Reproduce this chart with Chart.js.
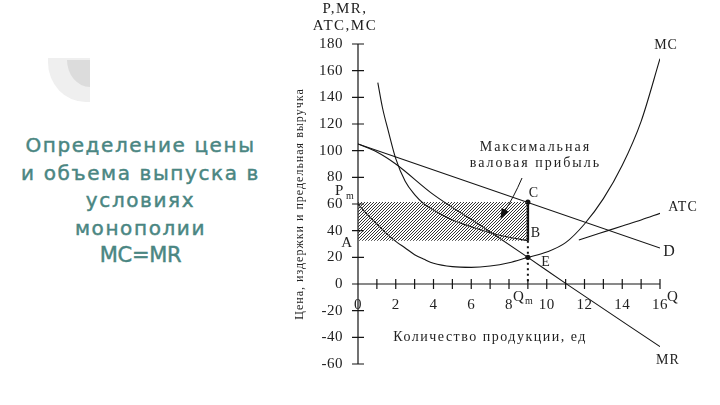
<!DOCTYPE html>
<html lang="ru">
<head>
  <meta charset="UTF-8">
  <meta name="viewport" content="width=device-width, initial-scale=1.0">
  <title>Определение цены и объема выпуска в условиях монополии</title>
  <style>
    html, body { margin: 0; padding: 0; background: #fff; }
    body { width: 720px; height: 405px; position: relative; overflow: hidden; }
    .deco { position: absolute; left: 48px; top: 58px; width: 42px; height: 44px;
            background: #efefef; border-bottom-left-radius: 90%; }
    .deco span { position: absolute; right: 0; top: 2px; width: 23px; height: 27px;
                 background: #dcdcdc; border-bottom-left-radius: 100%; }
    .title { position: absolute; left: 0; top: 132px; width: 281px; text-align: center;
             color: #4a8682; font-family: "DejaVu Sans", sans-serif; font-size: 20px;
             letter-spacing: 1.6px; -webkit-text-stroke: 0.45px #4a8682; }
    .title div { height: 27.5px; line-height: 27.5px; white-space: nowrap; }
    .title .big { font-size: 21px; letter-spacing: -0.3px; }
    .chartContainer { position: absolute; left: 0; top: 0; width: 720px; height: 405px; }
  </style>
</head>
<body>
  <div class="deco"><span></span></div>
  <div class="title">
    <div>Определение цены</div>
    <div>и объема выпуска в</div>
    <div>условиях</div>
    <div>монополии</div>
    <div class="big">MC=MR</div>
  </div>
  <div class="chartContainer">
    <canvas id="myChart"></canvas>
  </div>

  <script src="https://cdn.jsdelivr.net/npm/chart.js"></script>
  <script>
    // values
    const qMC = [0, 0.5, 1, 1.5, 2, 2.5, 3, 3.5, 4, 5, 6, 7, 8, 9, 10, 11, 12, 13, 14, 15, 16]
    const mc  = [60, 52, 45, 38, 32, 27, 22, 18.5, 15.5, 13, 12.5, 13.5, 16, 20, 24, 31, 45, 64, 89, 122, 169]

    const qATC = [1.05, 1.3, 1.6, 2, 2.5, 3, 3.5, 4, 5, 6, 7, 8, 9, 10.5, 11.7, 12.8, 14, 15, 16]
    const atc  = [151, 132, 115, 94, 77, 67, 60, 55.5, 48, 43, 38.5, 35, 32.5, null, 33, 38, 43.5, 48, 53]

    const qD = [0, 16]
    const dem = [105, 27]

    const qMR = [0, 1, 2, 4, 6.7, 9, 11, 16]
    const mr  = [105, 99, 90, 67, 42, 20, 0.5, -47]

    const qM = 9        // Qm
    const pM = 61.5     // Pm (point C)
    const atcM = 32.5   // ATC at Qm (point B)
    const mcM = 20      // MC = MR at Qm (point E)

    const xTicks = [0, 1, 2, 3, 4, 5, 6, 7, 8, 9, 10, 11, 12, 13, 14, 15, 16]
    const xTickLabels = ['0', '', '2', '', '4', '', '6', '', '8', '', '10', '', '12', '', '14', '', '16']
    const yTicks = [-60, -40, -20, 0, 20, 40, 60, 80, 100, 120, 140, 160, 180]

    // text placed on the chart (data units)
    const curveLabels = [
      { text: 'MC',  q: 16.32, v: 179, size: 14 },
      { text: 'ATC', q: 17.22, v: 57.5, size: 14 },
      { text: 'D',   q: 16.5,  v: 24, size: 16 },
      { text: 'MR',  q: 16.42, v: -57, size: 14 },
      { text: 'C',   q: 9.32,  v: 68.3, size: 14 },
      { text: 'B',   q: 9.43,  v: 38.3, size: 14 },
      { text: 'E',   q: 9.96,  v: 16.5, size: 14 },
      { text: 'Q',   q: 16.69, v: -9.75, size: 15 },
      { text: 'A',   q: -0.58, v: 30.75, size: 15 }
    ]
    const noteLines = ['Максимальная', 'валовая прибыль']
    const noteAt = { q: 9.4, v: 102.75 }
    const arrowFrom = { q: 8.69, v: 79.5 }
    const arrowTo = { q: 7.55, v: 49 }

    const pts = (xs, ys) => xs.map((x, i) => ({ x: x, y: ys[i] }))

    // hatch for the profit rectangle
    const tile = document.createElement('canvas')
    tile.width = 3
    tile.height = 3
    const tctx = tile.getContext('2d')
    tctx.fillStyle = '#333'
    tctx.fillRect(0, 2, 1, 1)
    tctx.fillRect(1, 1, 1, 1)
    tctx.fillRect(2, 0, 1, 1)
    const hatch = tctx.createPattern(tile, 'repeat')

    const serif = (size) => size + 'px "Liberation Serif", "DejaVu Serif", serif'

    function text(ctx, s, x, y, size, align, spacing) {
      ctx.font = serif(size)
      ctx.letterSpacing = (spacing || 0) + 'px'
      ctx.textAlign = align || 'center'
      ctx.fillText(s, x, y)
    }

    const drawAxes = {
      id: 'drawAxes',
      beforeDatasetsDraw(chart) {
        const ctx = chart.ctx
        const x = chart.scales.x
        const y = chart.scales.y
        const x0 = x.getPixelForValue(0)
        const y0 = y.getPixelForValue(0)
        ctx.save()
        ctx.strokeStyle = '#151515'
        ctx.lineWidth = 1.2
        ctx.beginPath()
        ctx.moveTo(x0, y.getPixelForValue(yTicks[yTicks.length - 1]))
        ctx.lineTo(x0, y.getPixelForValue(yTicks[0]))
        ctx.moveTo(x0, y0)
        ctx.lineTo(x.getPixelForValue(xTicks[xTicks.length - 1]), y0)
        yTicks.forEach(v => {
          const py = y.getPixelForValue(v)
          ctx.moveTo(x0 - 6, py)
          ctx.lineTo(x0 + 6, py)
        })
        xTicks.forEach(v => {
          const px = x.getPixelForValue(v)
          ctx.moveTo(px, y0 - 5)
          ctx.lineTo(px, y0 + 5)
        })
        ctx.stroke()
        ctx.restore()
      },
      afterDatasetsDraw(chart) {
        const ctx = chart.ctx
        const x = chart.scales.x
        const y = chart.scales.y
        const x0 = x.getPixelForValue(0)
        const y0 = y.getPixelForValue(0)
        const top = y.getPixelForValue(yTicks[yTicks.length - 1])
        ctx.save()
        ctx.fillStyle = '#222'
        ctx.textBaseline = 'middle'

        // y tick labels
        yTicks.forEach(v => text(ctx, String(v), x0 - 15, y.getPixelForValue(v), 15, 'right', 0.5))
        // x tick labels
        xTicks.forEach((v, i) => {
          if (xTickLabels[i]) text(ctx, xTickLabels[i], x.getPixelForValue(v), y0 + 21, 15, 'center', 0.5)
        })

        // axis titles
        text(ctx, 'P,MR,', x0 - 13, top - 35, 15, 'center', 1.5)
        text(ctx, 'ATC,MC', x0 - 13, top - 18, 15, 'center', 1.5)
        text(ctx, 'Количество продукции, ед', x.getPixelForValue(7), y.getPixelForValue(-40), 14, 'center', 1.5)
        ctx.save()
        ctx.translate(x0 - 58, (y.getPixelForValue(-20) + y.getPixelForValue(140)) / 2)
        ctx.rotate(-Math.PI / 2)
        text(ctx, 'Цена, издержки и предельная выручка', 0, 0, 12, 'center', 1)
        ctx.restore()

        // curve and point labels
        curveLabels.forEach(l => text(ctx, l.text, x.getPixelForValue(l.q), y.getPixelForValue(l.v), l.size, 'center', 1))

        // Pm and Qm with subscripts
        const pmY = y.getPixelForValue(69.8)
        text(ctx, 'P', x0 - 23, pmY, 15, 'left', 0)
        text(ctx, 'm', x0 - 12, pmY + 5, 10, 'left', 0)
        const qmX = x.getPixelForValue(8.21)
        const qmY = y.getPixelForValue(-9.75)
        text(ctx, 'Q', qmX, qmY, 15, 'left', 0)
        text(ctx, 'm', qmX + 12, qmY + 4, 10, 'left', 0)

        // note and arrow
        noteLines.forEach((s, i) => text(ctx, s, x.getPixelForValue(noteAt.q), y.getPixelForValue(noteAt.v) + i * 16, 14, 'center', 2))
        const ax = x.getPixelForValue(arrowFrom.q), ay = y.getPixelForValue(arrowFrom.v)
        const bx = x.getPixelForValue(arrowTo.q), by = y.getPixelForValue(arrowTo.v)
        const ang = Math.atan2(by - ay, bx - ax)
        ctx.strokeStyle = '#111'
        ctx.lineWidth = 1
        ctx.beginPath()
        ctx.moveTo(ax, ay)
        ctx.quadraticCurveTo((ax + bx) / 2 + 2, (ay + by) / 2, bx - 8 * Math.cos(ang), by - 8 * Math.sin(ang))
        ctx.stroke()
        ctx.fillStyle = '#111'
        ctx.beginPath()
        ctx.moveTo(bx, by)
        ctx.lineTo(bx - 10 * Math.cos(ang) + 4 * Math.sin(ang), by - 10 * Math.sin(ang) - 4 * Math.cos(ang))
        ctx.lineTo(bx - 10 * Math.cos(ang) - 4 * Math.sin(ang), by - 10 * Math.sin(ang) + 4 * Math.cos(ang))
        ctx.closePath()
        ctx.fill()
        ctx.restore()
      }
    }

    const curve = {
      borderColor: '#151515',
      borderWidth: 1.1,
      pointRadius: 0,
      fill: false,
      cubicInterpolationMode: 'monotone'
    }

    const data = {
      datasets: [
        { label: 'Profit', data: pts([0, qM], [pM, pM]), borderWidth: 0, pointRadius: 0,
          backgroundColor: hatch, fill: '+1' },
        { label: 'Profit base', data: pts([0, qM], [atcM, atcM]), borderWidth: 0, pointRadius: 0, fill: false },
        Object.assign({ label: 'MC', data: pts(qMC, mc) }, curve),
        Object.assign({ label: 'ATC', data: pts(qATC, atc), spanGaps: false }, curve),
        Object.assign({ label: 'D', data: pts(qD, dem) }, curve),
        Object.assign({ label: 'MR', data: pts(qMR, mr) }, curve),
        { label: 'CB', data: pts([qM, qM], [pM, atcM]), borderColor: '#111', borderWidth: 2.5, pointRadius: 0 },
        { label: 'BQ', data: pts([qM, qM], [atcM, 0]), borderColor: '#111', borderWidth: 2,
          borderDash: [2, 3.5], pointRadius: 0 },
        { label: 'C,E', data: pts([qM, qM], [pM, mcM]), showLine: false, pointRadius: 2.6,
          pointBackgroundColor: '#111', pointBorderWidth: 0 }
      ]
    }

    const config = {
      type: 'line',
      data: data,
      options: {
        responsive: true,
        maintainAspectRatio: false,
        animation: false,
        events: [],
        layout: { padding: { left: 358, right: 60, top: 44, bottom: 41 } },
        plugins: { legend: { display: false }, tooltip: { enabled: false } },
        scales: {
          x: { type: 'linear', min: 0, max: 16, display: false },
          y: { type: 'linear', min: -60, max: 180, display: false }
        }
      },
      plugins: [drawAxes]
    }

    const myChart = new Chart(document.getElementById('myChart'), config)
  </script>
</body>
</html>
